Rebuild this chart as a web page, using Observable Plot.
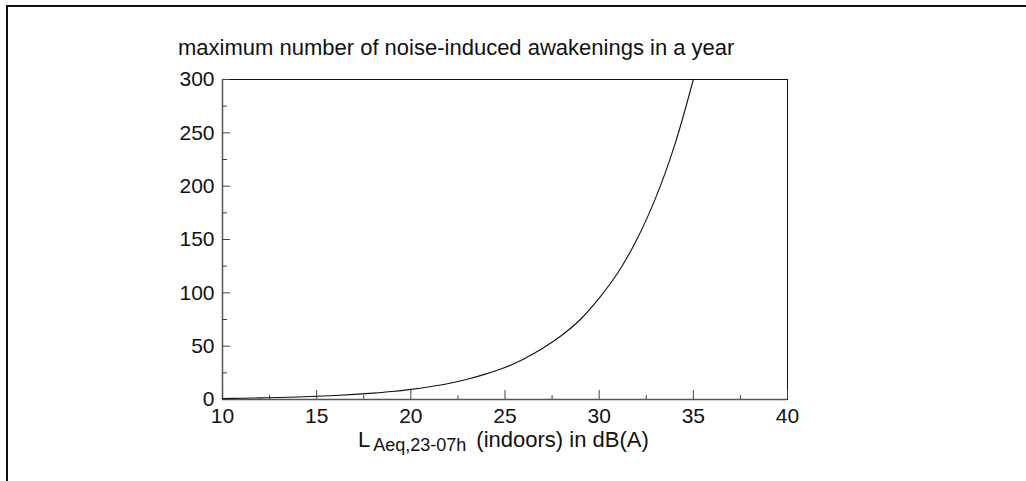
<!DOCTYPE html>
<html><head><meta charset="utf-8">
<script src="https://cdn.jsdelivr.net/npm/d3@7"></script>
<script src="https://cdn.jsdelivr.net/npm/@observablehq/plot@0.6"></script>
<style>
html,body{margin:0;padding:0;background:#fff;}
#wrap{position:relative;width:1026px;height:481px;overflow:hidden;background:#fff;}
#border{position:absolute;left:6px;top:5px;width:1100px;height:600px;border-top:2px solid #111;border-left:2px solid #111;}
#chart{position:absolute;left:0;top:0;}
</style></head><body>
<div id="wrap"><div id="border"></div><div id="chart"></div></div>
<script>
const levels = [10,11,12,13,14,15,16,17,18,19,20,21,22,23,24,25,26,27,28,29,30,31,32,33,34,35];
const awakenings = [0.95,1.2,1.5,1.9,2.4,3.0,3.8,4.8,6.0,7.5,9.5,12,15,19,24,30,38,48,60,75,95,119,150,189,238,300];
const xMajorTicks = [10,15,20,25,30,35,40];
const xMinorTicks = [12.5,17.5,22.5,27.5,32.5,37.5];
const yMajorTicks = [0,50,100,150,200,250,300];
const yMinorTicks = [25,75,125,175,225,275];
const xDomain = [10,40];
const yDomain = [0,300];
const titleText = "maximum number of noise-induced awakenings in a year";
const xLabelMain = "L";
const xLabelSub = "Aeq,23-07h";
const xLabelRest = "(indoors) in dB(A)";

const data = levels.map((x,i)=>({x, y: awakenings[i]}));

const chart = Plot.plot({
  width:1026, height:481,
  marginLeft:222, marginRight:239, marginTop:79, marginBottom:82,
  style:{fontFamily:"'Liberation Sans', Arial, sans-serif", fontSize:"21px", background:"transparent", overflow:"visible", color:"#111"},
  x:{domain:xDomain, label:null},
  y:{domain:yDomain, label:null},
  marks:[
    Plot.frame({stroke:"#111", strokeWidth:1}),
    Plot.ruleX([xDomain[0]], {stroke:"#555", strokeWidth:1.5}),
    Plot.ruleY([yDomain[0]], {stroke:"#555", strokeWidth:1.5}),
    Plot.axisX(xMajorTicks, {tickSize:-9, fill:"none", stroke:"#444", label:null}),
    Plot.axisX(xMinorTicks, {tickSize:-4, fill:"none", stroke:"#444", label:null}),
    Plot.axisX(xMajorTicks, {tickSize:0, tickPadding:9, label:null, fill:"#111"}),
    Plot.axisY(yMajorTicks, {tickSize:-8, fill:"none", stroke:"#444", label:null}),
    Plot.axisY(yMinorTicks, {tickSize:-5, fill:"none", stroke:"#444", label:null}),
    Plot.axisY(yMajorTicks, {tickSize:0, tickPadding:8, label:null, fill:"#111"}),
    Plot.line(data, {x:"x", y:"y", stroke:"#111", strokeWidth:1.1, curve:"catmull-rom", clip:true})
  ]
});
document.getElementById("chart").appendChild(chart);

const svg = d3.select(chart);
svg.append("text")
  .attr("x", 178).attr("y", 55)
  .attr("font-size", "22px").attr("fill", "#111")
  .attr("text-anchor", "start")
  .text(titleText);

const xl = svg.append("text")
  .attr("x", 358).attr("y", 447)
  .attr("font-size", "22px").attr("fill", "#111")
  .attr("text-anchor", "start");
xl.append("tspan").text(xLabelMain);
xl.append("tspan").attr("dx", 3).attr("dy", 4).attr("font-size", "18px").text(xLabelSub);
xl.append("tspan").attr("dx", 10).attr("dy", -4).attr("font-size", "22px").text(xLabelRest);
</script>
</body></html>
